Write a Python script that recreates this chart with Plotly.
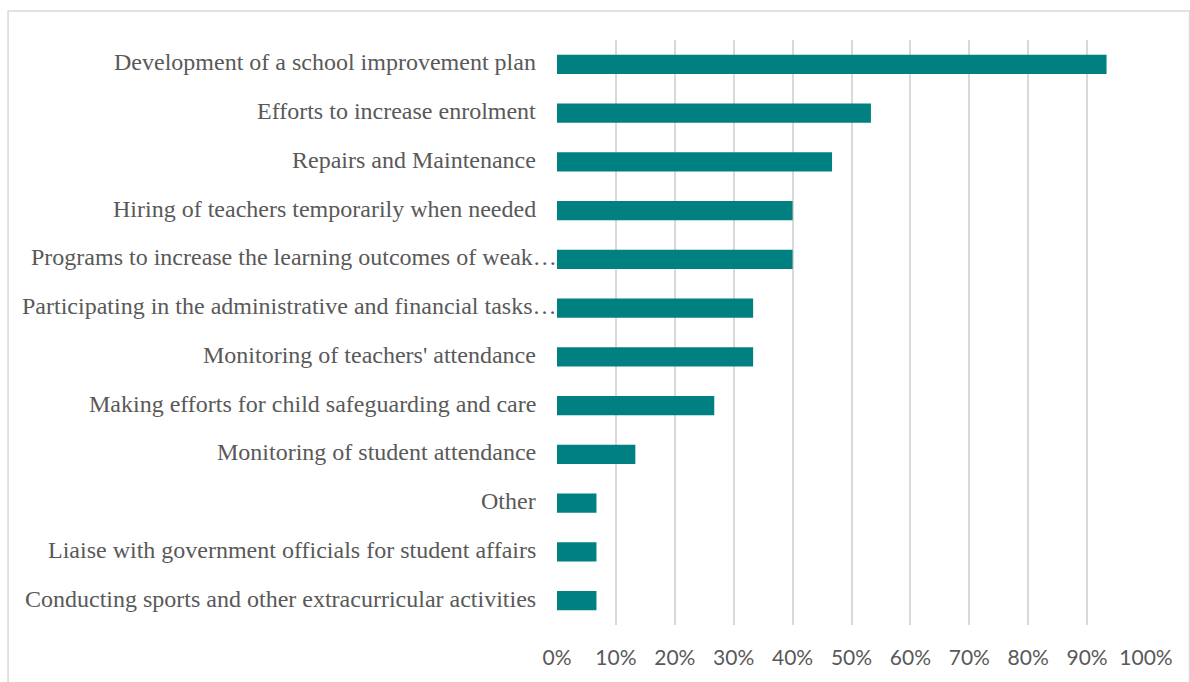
import plotly.graph_objects as go

# Activities, top to bottom
activities = [
    "Development of a school improvement plan",
    "Efforts to increase enrolment",
    "Repairs and Maintenance",
    "Hiring of teachers temporarily when needed",
    "Programs to increase the learning outcomes of weak…",
    "Participating in the administrative and financial tasks…",
    "Monitoring of teachers' attendance",
    "Making efforts for child safeguarding and care",
    "Monitoring of student attendance",
    "Other",
    "Liaise with government officials for student affairs",
    "Conducting sports and other extracurricular activities",
]
shares = [0.933, 0.533, 0.467, 0.40, 0.40, 0.333, 0.333, 0.267, 0.133, 0.067, 0.067, 0.067]

tick_vals = [i / 10 for i in range(11)]
tick_text = [f"{i * 10}%" for i in range(11)]

fig = go.Figure(
    go.Bar(
        x=shares,
        y=activities,
        orientation="h",
        marker=dict(color="#008080", line=dict(width=0)),
        hoverinfo="x+y",
    )
)

# Category labels: clipped (ellipsised) labels run right up to the axis,
# the others sit a little further left.
label_font = dict(family="Liberation Serif, Times New Roman, serif", size=24, color="#595959")
for name in activities:
    fig.add_annotation(
        x=0,
        y=name,
        xref="paper",
        yref="y",
        text=name,
        showarrow=False,
        xanchor="right",
        yanchor="middle",
        xshift=2 if name.endswith("…") else -19,
        yshift=2,
        font=label_font,
    )

fig.update_layout(
    width=1190,
    height=682,
    margin=dict(l=557, r=44, t=40, b=57),
    paper_bgcolor="white",
    plot_bgcolor="white",
    bargap=0.61,
    showlegend=False,
    xaxis=dict(
        range=[0, 1],
        tickvals=tick_vals,
        ticktext=tick_text,
        showgrid=True,
        gridcolor="#d9d9d9",
        gridwidth=1.5,
        zeroline=False,
        showline=False,
        ticks="",
        automargin=False,
        tickfont=dict(family="Lato, Open Sans, sans-serif", size=21, color="#595959"),
        ticklabelstandoff=18,
    ),
    yaxis=dict(
        categoryorder="array",
        categoryarray=activities[::-1],
        showgrid=False,
        zeroline=False,
        showline=False,
        ticks="",
        showticklabels=False,
        automargin=False,
    ),
    shapes=[
        dict(
            type="rect",
            xref="paper",
            yref="paper",
            x0=-0.932,
            x1=1.074,
            y0=-0.2,
            y1=1.0496,
            line=dict(color="#d9d9d9", width=1.5),
            fillcolor="rgba(0,0,0,0)",
            layer="below",
        )
    ],
)

fig.write_html("out.html")
